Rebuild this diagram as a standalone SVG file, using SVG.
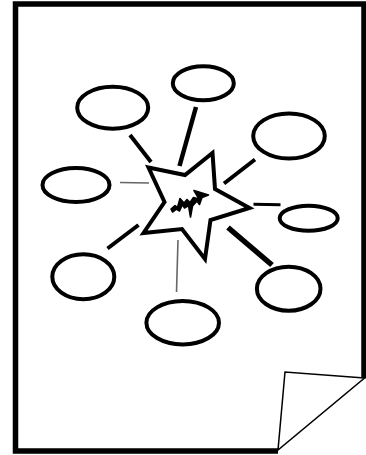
<svg xmlns="http://www.w3.org/2000/svg" width="366" height="455" viewBox="0 0 366 455">
<style>
.page{fill:none;stroke:#000;stroke-width:5.5;stroke-linejoin:miter}
.fold{fill:#fff;stroke:#000;stroke-width:1.5;stroke-linejoin:miter}
.node{fill:#fff;stroke:#000;stroke-width:4}
.star{fill:#fff;stroke:#000;stroke-width:4;stroke-linejoin:miter}
.c{stroke:#000;fill:none}
.thin{stroke:#666;stroke-width:1.6}
</style>
<rect x="0" y="0" width="366" height="455" fill="#fff"/>
<g id="page">
<path class="page" d="M278,451 H15.5 V4 H364 V378.5"/>
<path class="fold" d="M364.5,378 L285,372 L278,450 Z"/>
</g>
<g id="connectors">
<line class="c" x1="130" y1="135" x2="151" y2="162" stroke-width="4"/>
<line class="c" x1="196" y1="107" x2="179.5" y2="166" stroke-width="4.5"/>
<line class="c" x1="255" y1="159.5" x2="224" y2="183.5" stroke-width="4"/>
<line class="c thin" x1="120" y1="182.5" x2="149" y2="183"/>
<line class="c" x1="253.5" y1="204.3" x2="280.5" y2="204.7" stroke-width="3"/>
<line class="c" x1="138.5" y1="225" x2="107.5" y2="248.5" stroke-width="4"/>
<line class="c" x1="228" y1="227.5" x2="272" y2="265" stroke-width="5.5"/>
<line class="c thin" x1="178" y1="240" x2="176.5" y2="292"/>
</g>
<g id="n1"><ellipse class="node" cx="112.7" cy="107.7" rx="35.5" ry="21"/></g>
<g id="n2"><ellipse class="node" cx="203.3" cy="83.3" rx="30.5" ry="17"/></g>
<g id="n3"><ellipse class="node" cx="289" cy="136" rx="35.8" ry="22.5"/></g>
<g id="n4"><ellipse class="node" cx="76" cy="185" rx="33.5" ry="17"/></g>
<g id="n5"><ellipse class="node" cx="308.7" cy="218.3" rx="29" ry="12.5"/></g>
<g id="n6"><ellipse class="node" cx="83.3" cy="276.7" rx="31" ry="22.5"/></g>
<g id="n7"><ellipse class="node" cx="288.7" cy="288.7" rx="31.8" ry="22"/></g>
<g id="n8"><ellipse class="node" cx="182.7" cy="322.7" rx="36.3" ry="21.7"/></g>
<g id="center">
<polygon class="star" points="212.5,153 215,189 249.5,208 210.5,220 205,259 182,229 143.5,233 164.5,202 148.5,167.5 185,175"/>
<path d="M171,209 L175,205.5 L177.5,207.5 L180,198.5 L184,203 L187,199.5 L190,202.5 L193.5,197.5 L199,199 L194,190.5 L208.5,195 L202,197.5 L199.5,204.5 L197,201 L192.5,206 L190.5,217 L188.5,205.5 L184.5,208 L182.5,204.5 L179.5,211 L176.5,209 L172.5,212 Z" fill="#000" stroke="#000" stroke-width="1.6" stroke-linejoin="round"/>
</g>
</svg>
